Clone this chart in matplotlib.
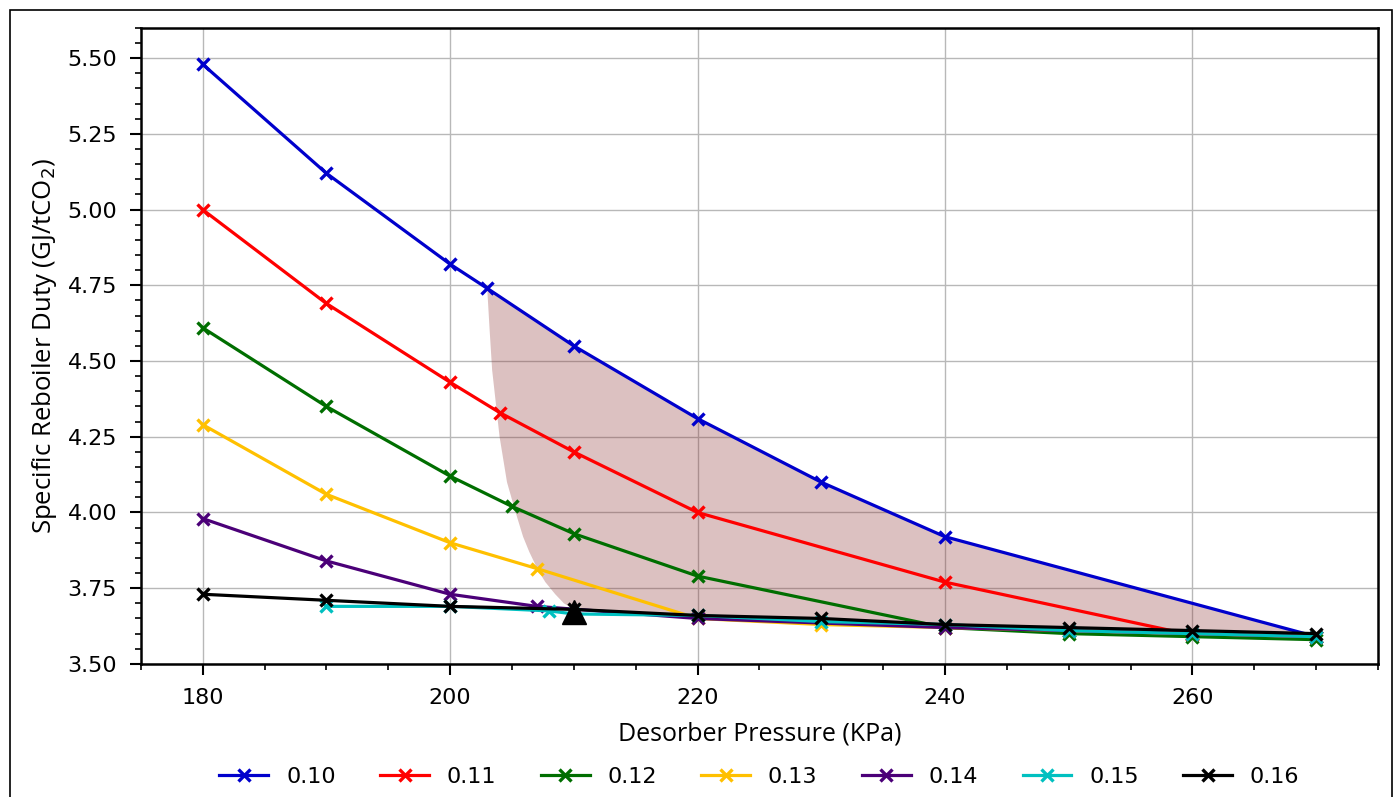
import matplotlib.pyplot as plt
from matplotlib.patches import Rectangle
from matplotlib.ticker import MultipleLocator
import numpy as np

# lean loading cases: pressure (KPa) vs specific reboiler duty (GJ/tCO2)
loadings = ["0.10", "0.11", "0.12", "0.13", "0.14", "0.15", "0.16"]
colors = ["#0000cc", "#ff0000", "#006e00", "#ffc000", "#4b0078", "#00c0c0", "#000000"]

p_010 = [180, 190, 200, 203, 210, 220, 230, 240, 270]
q_010 = [5.48, 5.12, 4.82, 4.74, 4.55, 4.31, 4.10, 3.92, 3.59]
p_011 = [180, 190, 200, 204, 210, 220, 240, 260, 270]
q_011 = [5.00, 4.69, 4.43, 4.33, 4.20, 4.00, 3.77, 3.595, 3.59]
p_012 = [180, 190, 200, 205, 210, 220, 240, 250, 260, 270]
q_012 = [4.61, 4.35, 4.12, 4.02, 3.93, 3.79, 3.62, 3.60, 3.59, 3.58]
p_013 = [180, 190, 200, 207, 220, 230, 240, 250, 260, 270]
q_013 = [4.29, 4.06, 3.90, 3.815, 3.65, 3.63, 3.62, 3.61, 3.60, 3.59]
p_014 = [180, 190, 200, 207, 220, 240, 250, 260, 270]
q_014 = [3.98, 3.84, 3.73, 3.69, 3.65, 3.62, 3.61, 3.60, 3.59]
p_015 = [190, 200, 208, 210, 220, 230, 240, 250, 260, 270]
q_015 = [3.69, 3.69, 3.675, 3.665, 3.66, 3.64, 3.63, 3.61, 3.60, 3.59]
p_016 = [180, 190, 200, 210, 220, 230, 240, 250, 260, 270]
q_016 = [3.73, 3.71, 3.69, 3.68, 3.66, 3.65, 3.63, 3.62, 3.61, 3.60]

pressures = [p_010, p_011, p_012, p_013, p_014, p_015, p_016]
duties = [q_010, q_011, q_012, q_013, q_014, q_015, q_016]

# optimum point
opt_p = 210
opt_q = 3.67

# left edge of the feasible region (from top of 0.10 curve down to the optimum)
edge_p = [203.0, 203.2, 203.4, 204.0, 204.6, 205.3, 205.9, 206.4, 207.1, 207.7, 208.5, 209.2, 210.0]
edge_q = [4.74, 4.60, 4.47, 4.25, 4.10, 4.00, 3.92, 3.87, 3.81, 3.77, 3.73, 3.70, 3.67]

fig = plt.figure(figsize=(13.94, 7.97), dpi=100)
ax = fig.add_axes([0.101, 0.167, 0.8875, 0.798])

# shaded region: along 0.10 curve, back along 0.16 curve, then up the left edge
top_p = [p for p in p_010 if p >= 203]
top_q = [q for p, q in zip(p_010, q_010) if p >= 203]
bot_p = [p for p in p_016 if p >= 210][::-1]
bot_q = [q for p, q in zip(p_016, q_016) if p >= 210][::-1]
poly_p = top_p + bot_p + edge_p[::-1][1:]
poly_q = top_q + bot_q + edge_q[::-1][1:]
ax.fill(poly_p, poly_q, color=(0.55, 0.2, 0.2), alpha=0.3, lw=0, zorder=1)

for lab, c, p, q in zip(loadings, colors, pressures, duties):
    ax.plot(p, q, color=c, lw=2.3, marker="x", ms=9, mew=2.4, label=lab, zorder=3)

ax.plot(opt_p, opt_q, marker="^", color="black", ms=17, ls="none", zorder=4)

ax.set_xlim(175, 275)
ax.set_ylim(3.50, 5.60)
ax.xaxis.set_major_locator(MultipleLocator(20))
ax.xaxis.set_minor_locator(MultipleLocator(5))
ax.yaxis.set_major_locator(MultipleLocator(0.25))
ax.yaxis.set_minor_locator(MultipleLocator(0.05))
ax.yaxis.set_major_formatter(plt.FormatStrFormatter("%.2f"))
ax.grid(True, which="major", color="#b8b8b8", lw=1, zorder=0)
ax.set_axisbelow(True)
ax.tick_params(which="major", length=8, width=1.5, labelsize=16, pad=9)
ax.tick_params(which="minor", length=4, width=1.2)
for s in ax.spines.values():
    s.set_linewidth(1.8)

ax.set_xlabel("Desorber Pressure (KPa)", fontsize=18, family="Open Sans", labelpad=10)
ax.set_ylabel("Specific Reboiler Duty (GJ/tCO$_2$)", fontsize=18.5, family="Open Sans", labelpad=6)

ax.legend(loc="upper center", bbox_to_anchor=(0.5, -0.13), ncol=7, frameon=False,
          fontsize=16, handlelength=2.2, columnspacing=2.0)

fig.patches.append(Rectangle((10 / 1394, -0.01), 1382 / 1394, 1 - 10 / 797 + 0.01,
                             transform=fig.transFigure, fill=False, ec="black", lw=1.2))

fig.savefig("out.png", dpi=100)
